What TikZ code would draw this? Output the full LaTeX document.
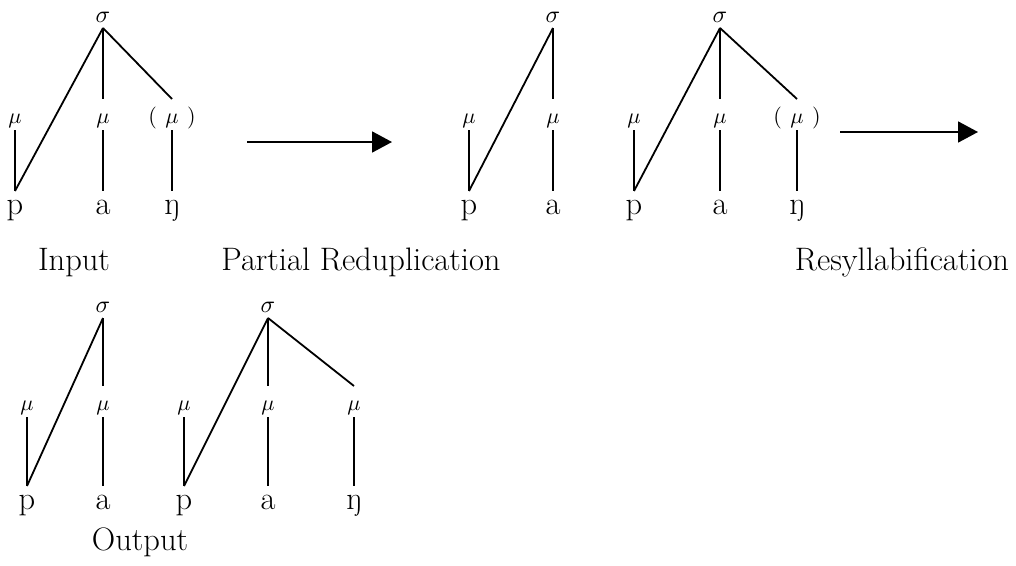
\documentclass[tikz,border=0pt]{standalone}
\usepackage{graphicx}
\usetikzlibrary{arrows.meta}
\tikzset{
  base/.style={anchor=base, inner sep=0pt, outer sep=0pt},
  sig/.style={base, text height=14pt, text depth=6pt},
  mu/.style={base, text height=24pt, text depth=7pt},
  seg/.style={base, font=\fontsize{32.5}{34}\selectfont, text height=23pt, text depth=0pt},
  lab/.style={base, font=\fontsize{32.5}{34}\selectfont},
  ln/.style={line width=1.8pt},
  arr/.style={line width=1.8pt, -{Triangle[length=20pt,width=21pt]}}
}
\newcommand{\Sg}{\scalebox{2.4}{$\sigma$}}
\newcommand{\Mu}{\scalebox{2.2}{$\mu$}}
\newcommand{\pmu}{\scalebox{2.2}{$(\mkern7mu\mu\mkern7mu)$}}
\begin{document}
\begin{tikzpicture}[x=1pt,y=-1pt]
\useasboundingbox (0,0) rectangle (1016,565);
% ---- Tree 1 (Input)
\node[sig] (s1) at (103,22) {\Sg};
\node[mu] (m1a) at (15,123) {\Mu};
\node[mu] (m1b) at (103,123) {\Mu};
\node[mu] (m1c) at (172,123) {\pmu};
\node[seg] (p1) at (15,214) {p};
\node[seg] (a1) at (103,214) {a};
\node[seg] (n1) at (172,214) {ŋ};
\draw[ln] (s1.south) -- (p1.north);
\draw[ln] (s1.south) -- (m1b.north);
\draw[ln] (s1.south) -- (m1c.north);
\draw[ln] (m1a.south) -- (p1.north);
\draw[ln] (m1b.south) -- (a1.north);
\draw[ln] (m1c.south) -- (n1.north);
\node[lab] (l1) at (74,270) {Input};
% ---- Arrow 1
\coordinate (A1s) at (247,142);
\coordinate (A1e) at (392,142);
\draw[arr] (A1s) -- (A1e);
% ---- Tree 2
\node[sig] (s2) at (553,22) {\Sg};
\node[mu] (m2a) at (469,123) {\Mu};
\node[mu] (m2b) at (553,123) {\Mu};
\node[seg] (p2) at (469,214) {p};
\node[seg] (a2) at (553,214) {a};
\draw[ln] (s2.south) -- (p2.north);
\draw[ln] (s2.south) -- (m2b.north);
\draw[ln] (m2a.south) -- (p2.north);
\draw[ln] (m2b.south) -- (a2.north);
% ---- Tree 3
\node[sig] (s3) at (720,22) {\Sg};
\node[mu] (m3a) at (634,123) {\Mu};
\node[mu] (m3b) at (720,123) {\Mu};
\node[mu] (m3c) at (797,123) {\pmu};
\node[seg] (p3) at (634,214) {p};
\node[seg] (a3) at (720,214) {a};
\node[seg] (n3) at (797,214) {ŋ};
\draw[ln] (s3.south) -- (p3.north);
\draw[ln] (s3.south) -- (m3b.north);
\draw[ln] (s3.south) -- (m3c.north);
\draw[ln] (m3a.south) -- (p3.north);
\draw[ln] (m3b.south) -- (a3.north);
\draw[ln] (m3c.south) -- (n3.north);
\node[lab] (l2) at (361,270) {Partial Reduplication};
% ---- Arrow 2
\coordinate (A2s) at (840,132);
\coordinate (A2e) at (978,132);
\draw[arr] (A2s) -- (A2e);
\node[lab] (l3) at (902,270) {Resyllabification};
% ---- Tree 4
\node[sig] (s4) at (103,312) {\Sg};
\node[mu] (m4a) at (27,410) {\Mu};
\node[mu] (m4b) at (103,410) {\Mu};
\node[seg] (p4) at (27,509) {p};
\node[seg] (a4) at (103,509) {a};
\draw[ln] (s4.south) -- (p4.north);
\draw[ln] (s4.south) -- (m4b.north);
\draw[ln] (m4a.south) -- (p4.north);
\draw[ln] (m4b.south) -- (a4.north);
% ---- Tree 5
\node[sig] (s5) at (268,312) {\Sg};
\node[mu] (m5a) at (184,410) {\Mu};
\node[mu] (m5b) at (268,410) {\Mu};
\node[mu] (m5c) at (354,410) {\Mu};
\node[seg] (p5) at (184,509) {p};
\node[seg] (a5) at (268,509) {a};
\node[seg] (n5) at (354,509) {ŋ};
\draw[ln] (s5.south) -- (p5.north);
\draw[ln] (s5.south) -- (m5b.north);
\draw[ln] (s5.south) -- (m5c.north);
\draw[ln] (m5a.south) -- (p5.north);
\draw[ln] (m5b.south) -- (a5.north);
\draw[ln] (m5c.south) -- (n5.north);
\node[lab] (l4) at (140,550) {Output};
\end{tikzpicture}
\end{document}
